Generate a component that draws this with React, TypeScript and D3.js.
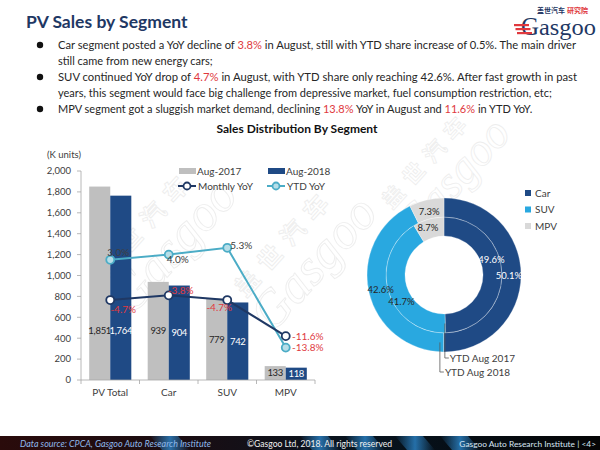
import React from 'react'
import * as d3 from 'd3'

// bar + line chart data
const categories = ['PV Total', 'Car', 'SUV', 'MPV']
const years = ['Aug-2017', 'Aug-2018']
const sales2017 = [1851, 939, 779, 133]
const sales2018 = [1764, 904, 742, 118]
const monthlyYoY = [-4.7, -3.8, -4.7, -11.6]
const ytdYoY = [3.0, 4.0, 5.3, -13.8]
const yTicks = [0, 200, 400, 600, 800, 1000, 1200, 1400, 1600, 1800, 2000]

// donut data (inner ring = 2017, outer ring = 2018)
const segments = ['Car', 'SUV', 'MPV']
const share2017 = [49.6, 41.7, 8.7]
const share2018 = [50.1, 42.6, 7.3]
const ringNames = ['YTD Aug 2017', 'YTD Aug 2018']

// bullet text, red parts flagged
const bullets = [
  [
    [['Car segment posted a YoY decline of ', false], ['3.8%', true], [' in August, still with YTD share increase of 0.5%. The main driver', false]],
    [['still came from new energy cars;', false]],
  ],
  [
    [['SUV continued YoY drop of ', false], ['4.7%', true], [' in August, with YTD share only reaching 42.6%. After fast growth in past', false]],
    [['years, this segment would face big challenge from depressive market, fuel consumption restriction, etc;', false]],
  ],
  [
    [['MPV segment got a sluggish market demand, declining ', false], ['13.8%', true], [' YoY in August and ', false], ['11.6%', true], [' in YTD YoY.', false]],
  ],
]

const NAVY = '#1f4a85'
const LINE_NAVY = '#1f3864'
const CYAN = '#4bacc6'
const SUV_BLUE = '#29a8e0'
const GRAY_BAR = '#bfbfbf'
const MPV_GRAY = '#d9d9d9'
const RED = '#e0393e'
const TEXT = '#404040'

const fmt = d3.format(',')
const pct = (v: number) => v.toFixed(1) + '%'

const Watermark = ({ x, y, scale }: { x: number; y: number; scale: number }) => (
  <g transform={`translate(${x},${y}) rotate(-48) scale(${scale})`} fill="none" stroke="#d4d4d4" strokeWidth={0.9} opacity={0.4}>
    <text x={0} y={-30} fontSize={24} fontWeight="bold" fontFamily="'Noto Sans CJK SC', sans-serif" letterSpacing={10}>
      盖世汽车
    </text>
    <text x={-10} y={14} fontSize={52} fontStyle="italic" fontFamily="'Liberation Serif', serif">
      Gasgoo
    </text>
  </g>
)

const App = () => {
  // bar chart scales
  const x0 = d3.scaleBand().domain(categories).range([81, 315]).paddingInner(0.28).paddingOuter(0.14)
  const x1 = d3.scaleBand().domain(years).range([0, x0.bandwidth()])
  const y = d3.scaleLinear().domain([0, 2000]).range([380, 171])
  const y2 = d3.scaleLinear().domain([-20, 20]).range([380, 171])
  const cx = (i: number) => (x0(categories[i]) as number) + x0.bandwidth() / 2

  const line = d3
    .line<number>()
    .x((d, i) => cx(i))
    .y((d) => y2(d))

  const barSeries = [
    { name: years[0], values: sales2017, fill: GRAY_BAR, label: '#262626' },
    { name: years[1], values: sales2018, fill: NAVY, label: '#ffffff' },
  ]

  // label offsets from each point (excel-ish placement)
  const monthlyOff = [[13, 9], [12, -5], [-8, 7], [22, 0]]
  const ytdOff = [[8, -7], [9, 5], [14, -2], [22, 0]]

  // donut
  const dcx = 444
  const dcy = 275
  const rings = [
    { name: ringNames[0], values: share2017, r0: 39, r1: 58, labelAt: 0.4, rl: 50 },
    { name: ringNames[1], values: share2018, r0: 58, r1: 77, labelAt: 0.5, rl: 65 },
  ]
  const pie = d3.pie<number>().sort(null)
  const segColors = [NAVY, SUV_BLUE, MPV_GRAY]
  const segLabel = ['#ffffff', '#262626', '#262626']
  const leaderAngles = [179, 183.5]
  const ringArcs = rings.map((ring) => ({
    ring,
    arcs: pie(ring.values),
    arc: d3.arc<d3.PieArcDatum<number>>().innerRadius(ring.r0).outerRadius(ring.r1),
  }))

  // justified rows get a fixed length, the rest keep their natural width
  const justified: Record<number, number> = { 0: 518, 2: 519 }

  return (
    <svg
      width={600}
      height={450}
      style={{ position: 'absolute', left: 0, top: 0, background: '#fff' }}
      fontFamily="Lato, 'Open Sans', sans-serif"
    >
      {/* watermarks */}
      <Watermark x={128} y={300} scale={1} />
      <Watermark x={268} y={318} scale={1} />
      <Watermark x={412} y={228} scale={0.9} />

      {/* title */}
      <text x={26} y={28} fontSize={17.5} fontWeight="bold" fill="#1f3864">
        PV Sales by Segment
      </text>

      {/* logo */}
      <g>
        <text x={537} y={13} fontSize={7} fontWeight="bold" fill="#1f3864" fontFamily="'Noto Sans CJK SC', sans-serif">
          盖世汽车
        </text>
        <text x={567} y={13} fontSize={7} fontWeight="bold" fill={RED} fontFamily="'Noto Sans CJK SC', sans-serif">
          研究院
        </text>
        <text x={521} y={35} fontSize={25} fill="#1f3864" fontFamily="'Liberation Serif', serif">
          G
        </text>
        {[24, 28, 32].map((sy, i) => (
          <rect key={i} x={514 + i * 1.5} y={sy} width={15} height={2.2} fill={RED} />
        ))}
        <text x={539} y={35} fontSize={23} fill="#1f3864" fontFamily="'Liberation Serif', serif" textLength={57} lengthAdjust="spacingAndGlyphs">
          asgoo
        </text>
      </g>

      {/* bullets */}
      {(() => {
        let k = 0
        return bullets.map((b, bi) => {
          const first = k
          const rows = b.map((row, ri) => {
            const idx = k++
            const len = justified[idx]
            return (
              <text
                key={ri}
                x={58}
                y={49 + idx * 16}
                fontSize={11}
                fill="#262626"
                textLength={len}
                lengthAdjust={len ? 'spacingAndGlyphs' : undefined}
              >
                {row.map(([t, red], j) => (
                  <tspan key={j} fill={red ? RED : '#262626'}>
                    {t as string}
                  </tspan>
                ))}
              </text>
            )
          })
          return (
            <g key={bi}>
              <circle cx={40} cy={45 + first * 16} r={3.2} fill="#111" />
              {rows}
            </g>
          )
        })
      })()}

      {/* subtitle */}
      <text x={297} y={133} fontSize={12} fontWeight="bold" fill="#111" textAnchor="middle">
        Sales Distribution  By Segment
      </text>

      {/* y axis */}
      <text x={47} y={158} fontSize={9.5} fill={TEXT}>
        (K units)
      </text>
      <line x1={81} x2={81} y1={y(0)} y2={y(2000)} stroke="#a6a6a6" strokeWidth={0.8} />
      {yTicks.map((t) => (
        <g key={t}>
          <line x1={77} x2={81} y1={y(t)} y2={y(t)} stroke="#a6a6a6" strokeWidth={0.8} />
          <text x={71} y={y(t) + 3.3} fontSize={9.5} fill={TEXT} textAnchor="end">
            {fmt(t)}
          </text>
        </g>
      ))}

      {/* bars */}
      {barSeries.map((s) =>
        s.values.map((v, i) => (
          <rect
            key={s.name + i}
            x={(x0(categories[i]) as number) + (x1(s.name) as number)}
            y={y(v)}
            width={x1.bandwidth()}
            height={y(0) - y(v)}
            fill={s.fill}
          />
        ))
      )}
      {barSeries.map((s) =>
        s.values.map((v, i) => (
          <text
            key={'l' + s.name + i}
            x={(x0(categories[i]) as number) + (x1(s.name) as number) + x1.bandwidth() / 2}
            y={y(Math.min(v / 2, 470)) + 3.3}
            fontSize={9.5}
            letterSpacing={-0.3}
            fill={s.label}
            textAnchor="middle"
          >
            {fmt(v)}
          </text>
        ))
      )}

      {/* x axis */}
      <line x1={81} x2={315} y1={y(0)} y2={y(0)} stroke="#a6a6a6" strokeWidth={0.8} />
      {categories.map((c, i) => (
        <g key={c}>
          <line
            x1={(x0(c) as number) - x0.step() * 0.14}
            x2={(x0(c) as number) - x0.step() * 0.14}
            y1={y(0)}
            y2={y(0) + 4}
            stroke="#a6a6a6"
            strokeWidth={0.8}
          />
          <text x={cx(i)} y={396} fontSize={10} fill={TEXT} textAnchor="middle">
            {c}
          </text>
        </g>
      ))}
      <line x1={315} x2={315} y1={y(0)} y2={y(0) + 4} stroke="#a6a6a6" strokeWidth={0.8} />

      {/* lines */}
      <path d={line(ytdYoY) as string} fill="none" stroke={CYAN} strokeWidth={2} />
      <path d={line(monthlyYoY) as string} fill="none" stroke={LINE_NAVY} strokeWidth={2} />
      {ytdYoY.map((v, i) => (
        <circle key={'yc' + i} cx={cx(i)} cy={y2(v)} r={4} fill="#b7dee8" stroke={CYAN} strokeWidth={1.8} />
      ))}
      {monthlyYoY.map((v, i) => (
        <circle key={'mc' + i} cx={cx(i)} cy={y2(v)} r={4} fill="#ffffff" stroke={LINE_NAVY} strokeWidth={1.8} />
      ))}
      {ytdYoY.map((v, i) => (
        <text
          key={'yl' + i}
          x={cx(i) + ytdOff[i][0]}
          y={y2(v) + ytdOff[i][1] + 3.5}
          fontSize={10}
          fill={v < 0 ? RED : TEXT}
          textAnchor="middle"
        >
          {pct(v)}
        </text>
      ))}
      {monthlyYoY.map((v, i) => (
        <text
          key={'ml' + i}
          x={cx(i) + monthlyOff[i][0]}
          y={y2(v) + monthlyOff[i][1] + 3.5}
          fontSize={10}
          fill={RED}
          textAnchor="middle"
        >
          {pct(v)}
        </text>
      ))}

      {/* bar/line legend */}
      <g fontSize={10} fill={TEXT}>
        <rect x={179} y={168} width={17} height={6} fill={GRAY_BAR} />
        <text x={197} y={174.5}>{years[0]}</text>
        <rect x={268} y={168} width={17} height={6} fill={NAVY} />
        <text x={286} y={174.5}>{years[1]}</text>
        <line x1={178} x2={196} y1={186} y2={186} stroke={LINE_NAVY} strokeWidth={2} />
        <circle cx={187} cy={186} r={3.5} fill="#fff" stroke={LINE_NAVY} strokeWidth={1.8} />
        <text x={198} y={189.5}>Monthly YoY</text>
        <line x1={267} x2={285} y1={186} y2={186} stroke={CYAN} strokeWidth={2} />
        <circle cx={276} cy={186} r={3.5} fill="#b7dee8" stroke={CYAN} strokeWidth={1.8} />
        <text x={287} y={189.5}>YTD YoY</text>
      </g>

      {/* donut */}
      <g transform={`translate(${dcx},${dcy})`}>
        {ringArcs.map(({ ring, arcs, arc }) => (
          <g key={ring.name}>
            {arcs.map((a, i) => (
              <path key={i} d={arc(a) as string} fill={segColors[i]} stroke="#ffffff" strokeWidth={0.4} strokeOpacity={0.7} />
            ))}
          </g>
        ))}
        {ringArcs.map(({ ring, arcs }) => (
          <g key={'lb' + ring.name}>
            {arcs.map((a, i) => {
              const ang = a.startAngle + ring.labelAt * (a.endAngle - a.startAngle)
              return (
                <text
                  key={'t' + i}
                  x={ring.rl * Math.sin(ang)}
                  y={-ring.rl * Math.cos(ang) + 3.5}
                  fontSize={9.5}
                  fill={segLabel[i]}
                  textAnchor="middle"
                >
                  {pct(a.data)}
                </text>
              )
            })}
          </g>
        ))}
        {/* leader lines to ring names */}
        {rings.map((ring, i) => {
          const rm = (ring.r0 + ring.r1) / 2
          const ang = (leaderAngles[i] * Math.PI) / 180
          const lx = rm * Math.sin(ang)
          const ly = -rm * Math.cos(ang)
          const ty = 83 + i * 14
          return (
            <g key={'ld' + i}>
              <path d={`M${lx},${ly}V${ty}H${lx + 4}`} fill="none" stroke="#595959" strokeWidth={0.8} />
              <text x={lx + 5} y={ty + 3.5} fontSize={10} fill={TEXT}>
                {ring.name}
              </text>
            </g>
          )
        })}
      </g>

      {/* donut legend */}
      {segments.map((s, i) => (
        <g key={s}>
          <rect x={525} y={190 + i * 16.5} width={6} height={6} fill={segColors[i]} />
          <text x={535} y={196.5 + i * 16.5} fontSize={10} fill={TEXT}>
            {s}
          </text>
        </g>
      ))}

      {/* footer */}
      <defs>
        <linearGradient id="foot" x1="0" x2="1" y1="0" y2="0">
          <stop offset="0" stopColor="#2a0b0b" />
          <stop offset="0.3" stopColor="#1a0d12" />
          <stop offset="0.6" stopColor="#071420" />
          <stop offset="1" stopColor="#050505" />
        </linearGradient>
        <linearGradient id="streak" x1="0" x2="1" y1="0" y2="0">
          <stop offset="0" stopColor="#2f8fd8" stopOpacity={0} />
          <stop offset="0.5" stopColor="#2f8fd8" stopOpacity={0.75} />
          <stop offset="1" stopColor="#2f8fd8" stopOpacity={0} />
        </linearGradient>
      </defs>
      <rect x={0} y={436} width={600} height={14} fill="url(#foot)" />
      {[150, 300, 345, 395, 440].map((sx, i) => (
        <polygon key={i} points={`${sx},436 ${sx + 28},436 ${sx + 40},450 ${sx + 12},450`} fill="url(#streak)" />
      ))}
      <text x={20} y={446.5} fontSize={9} fontStyle="italic" fill="#8fb8ea" textLength={191} lengthAdjust="spacingAndGlyphs">
        Data source: CPCA, Gasgoo Auto Research Institute
      </text>
      <text x={247} y={446.5} fontSize={9} fill="#f0f0f0" textLength={145} lengthAdjust="spacingAndGlyphs">
        ©Gasgoo Ltd, 2018.  All rights reserved
      </text>
      <text x={596} y={446.5} fontSize={8.4} fill="#d8e6f4" textAnchor="end">
        Gasgoo Auto Research Institute  |  &lt;4&gt;
      </text>
    </svg>
  )
}

export default App
